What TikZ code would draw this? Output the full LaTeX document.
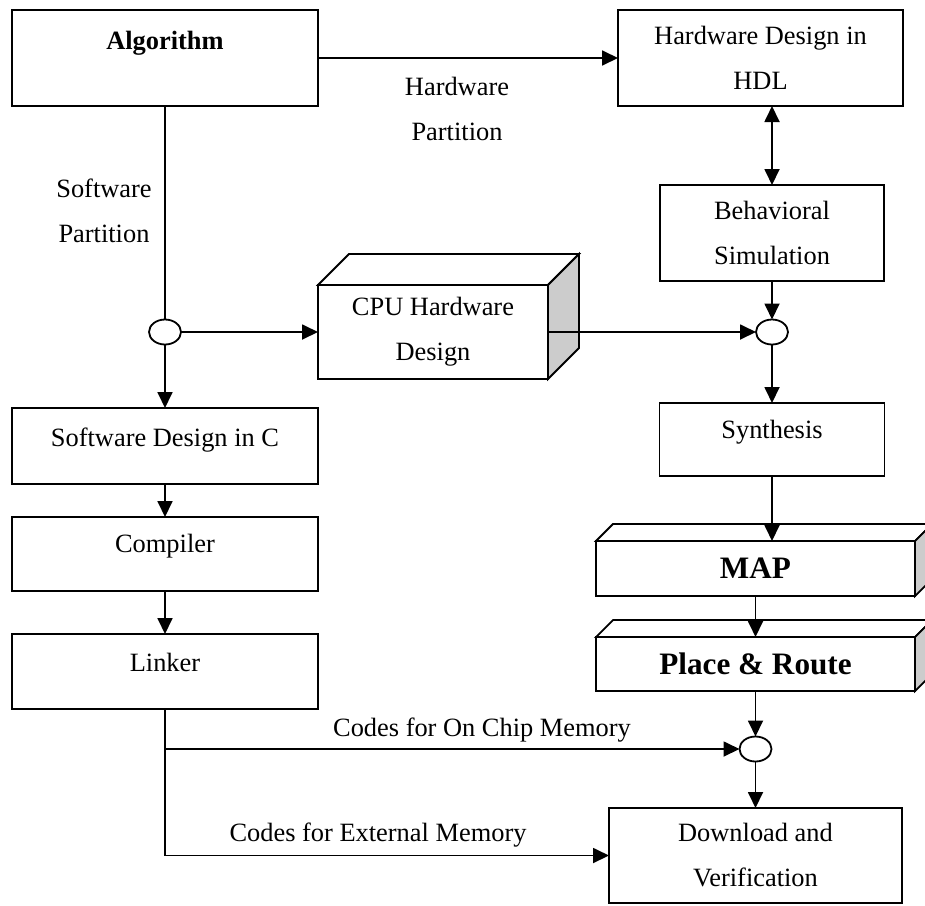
\documentclass[tikz,border=0pt]{standalone}
\usepackage{fontspec}
\setmainfont{Liberation Serif}
\usetikzlibrary{arrows.meta, shapes.geometric}

\begin{document}
\begin{tikzpicture}[x=0.5pt, y=-0.5pt, line width=0.9pt,
  every node/.style={font=\fontsize{13.2}{22.5}\selectfont},
  box/.style={draw, fill=white, rectangle, align=center, inner sep=0pt, outer sep=0pt},
  junc/.style={draw, ellipse, minimum width=16pt, minimum height=12.5pt, inner sep=0pt, outer sep=0pt},
  upper/.style={text height=9pt, text depth=#1},
  bold/.style={font=\fontsize{13.2}{22.5}\selectfont\bfseries},
  big/.style={font=\fontsize{15.6}{18}\selectfont\bfseries},
  lbl/.style={align=center},
  arr/.style={-{Triangle[length=8pt, width=7.5pt]}}]
  \clip (0,0) rectangle (925,905);
  % boxes
  \node[box, bold, minimum width=153pt, minimum height=48pt, upper=18pt] (alg) at (165,58) {Algorithm};
  \node[box, minimum width=142.5pt, minimum height=48pt] (hdl) at (760.5,58) {Hardware Design in\\HDL};
  \node[box, minimum width=112pt, minimum height=48pt] (beh) at (772,233) {Behavioral\\Simulation};
  \node[box, minimum width=112.5pt, minimum height=36.5pt, upper=10pt] (syn) at (772,439.5) {Synthesis};
  \node[box, minimum width=153pt, minimum height=38pt, upper=9pt] (sw) at (165,446) {Software Design in C};
  \node[box, minimum width=153pt, minimum height=37pt, upper=11pt] (comp) at (165,554) {Compiler};
  \node[box, minimum width=153pt, minimum height=37.5pt, upper=9.5pt] (link) at (165,671.5) {Linker};
  \node[box, minimum width=146.5pt, minimum height=47.5pt] (dl) at (755.5,855.5) {Download and\\Verification};
  \node[box, minimum width=115pt, minimum height=47pt] (cpu) at (433,332) {CPU Hardware\\Design};
  \node[box, big, minimum width=159.5pt, minimum height=27.5pt] (map) at (755.5,568.5) {MAP};
  \node[box, big, minimum width=159.5pt, minimum height=27pt] (pr) at (755.5,664) {Place \& Route};
  % junctions
  \node[junc] (swj) at (165,332) {};
  \node[junc] (hwj) at (772,332) {};
  \node[junc] (memj) at (755.5,749) {};
  % 3d faces
  \foreach \n/\d in {cpu/31, map/17, pr/17} {
    \draw[fill=white] (\n.north west) -- ++(\d,-\d) -- ([shift={(\d,-\d)}]\n.north east) -- (\n.north east) -- cycle;
    \draw[fill=black!20] (\n.north east) -- ++(\d,-\d) -- ([shift={(\d,-\d)}]\n.south east) -- (\n.south east) -- cycle;
  }
  % labels
  \node[lbl] (hwlab) at (457,109) {Hardware\\Partition};
  \node[lbl] (swlab) at (104,210.5) {Software\\Partition};
  \node (onlab) at (482,730) {Codes for On Chip Memory};
  \node (exlab) at (378,835) {Codes for External Memory};
  % connectors
  \draw[arr] (alg) -- (hdl);
  \draw (alg) -- (swj);
  \draw[arr] (swj) -- (sw);
  \draw[arr] (swj) -- (cpu);
  \draw[arr] (cpu) -- (hwj);
  \draw[{Triangle[length=8pt, width=7.5pt]}-{Triangle[length=8pt, width=7.5pt]}] (beh.north |- hdl.south) -- (beh.north);
  \draw[arr] (beh) -- (hwj);
  \draw[arr] (hwj) -- (syn);
  \draw[arr] (syn) -- (syn.south |- map.north);
  \draw[arr] (sw) -- (comp);
  \draw[arr] (comp) -- (link);
  \draw[arr] (map) -- (pr);
  \draw[arr] (pr) -- (memj);
  \draw[arr] (memj) -- (dl);
  \draw[arr] (link) |- (memj);
  \draw[arr] (link) |- (dl);
\end{tikzpicture}
\end{document}
